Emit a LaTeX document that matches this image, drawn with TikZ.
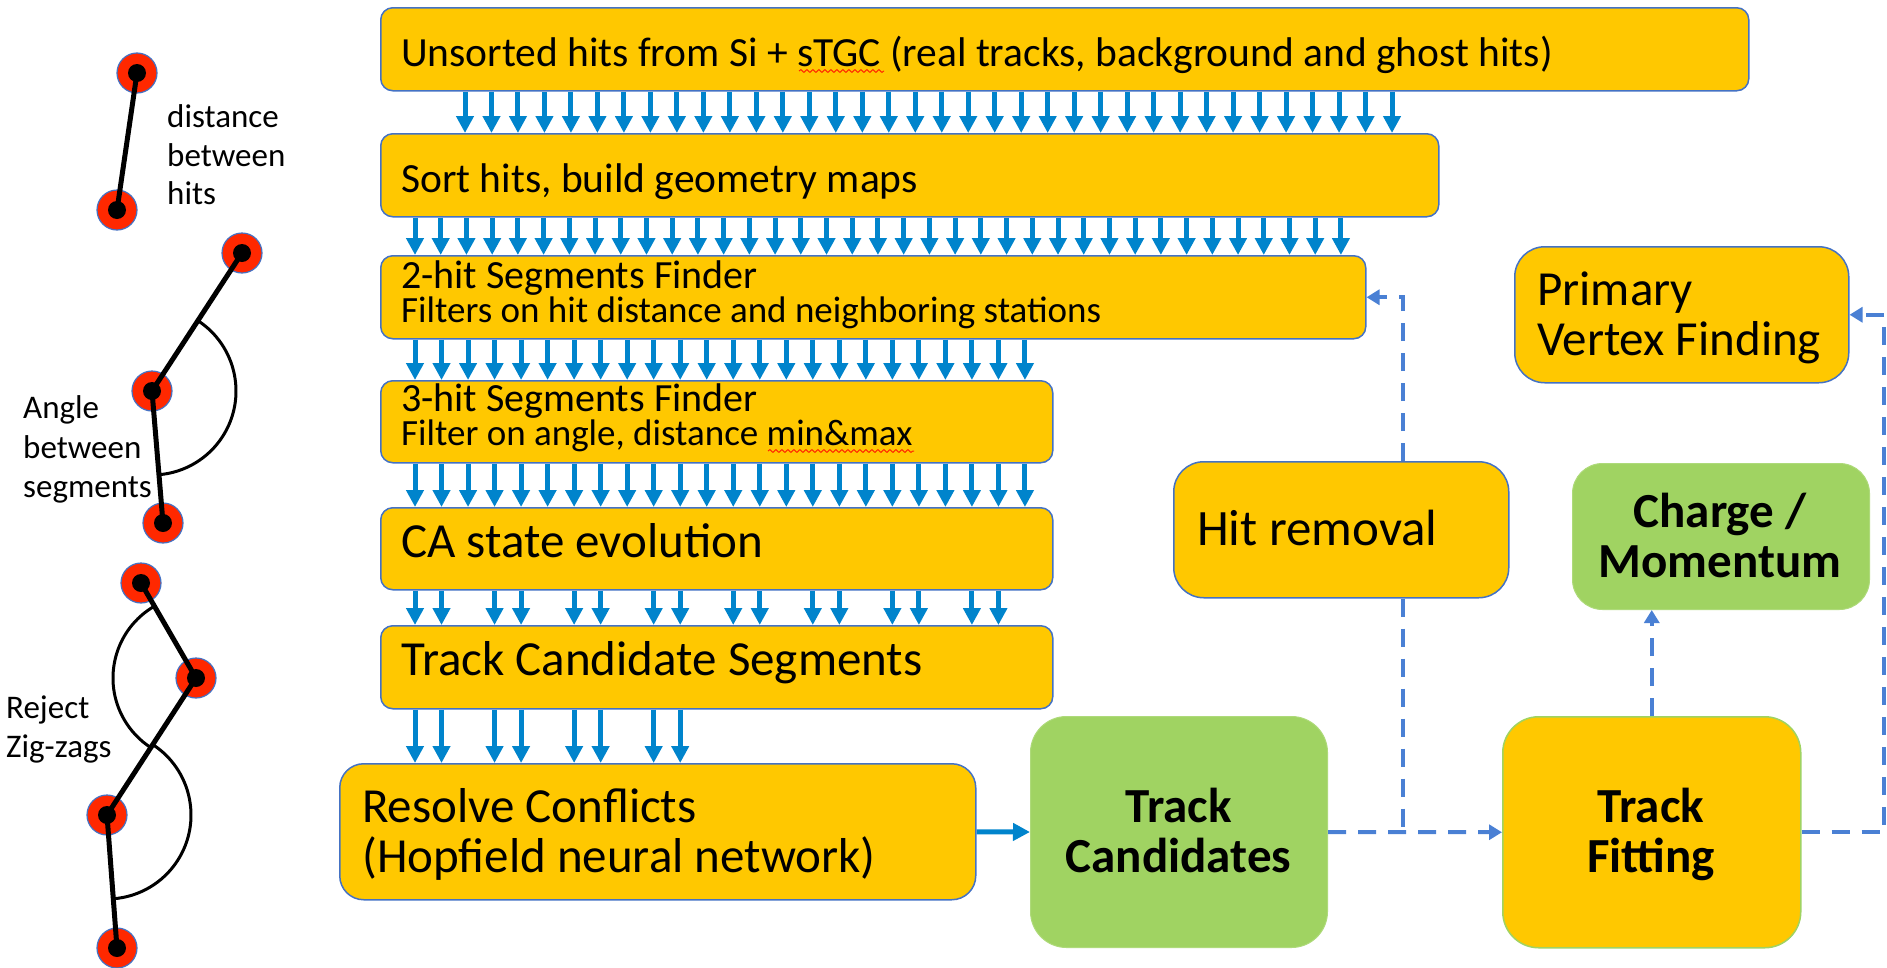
\documentclass[tikz,border=0pt]{standalone}
\usepackage{fontspec}
\setmainfont{Carlito}
\usetikzlibrary{arrows.meta,decorations.pathmorphing,calc}
\definecolor{boxY}{RGB}{255,200,0}
\definecolor{boxB}{RGB}{68,114,196}
\definecolor{grn}{RGB}{160,211,98}
\definecolor{arrB}{RGB}{0,132,204}
\definecolor{dashB}{RGB}{74,128,212}
\definecolor{hitR}{RGB}{255,40,0}
\newcommand\myfs[1]{\fontsize{#1bp}{#1bp}\selectfont}
\begin{document}
\begin{tikzpicture}[x=1bp,y=-1bp,
  ybox/.style={draw=boxB,line width=1.5bp,fill=boxY,rounded corners=#1,inner sep=0,anchor=north west},
  gbox/.style={draw=grn!85!white,line width=1bp,fill=grn,rounded corners=#1,inner sep=0,anchor=north west},
  fbox/.style={draw=grn,line width=1.5bp,fill=boxY,rounded corners=#1,inner sep=0,anchor=north west},
  txt/.style={anchor=base west,inner sep=0},
  ctxt/.style={anchor=base,inner sep=0},
  barrow/.style={draw=arrB,line width=5bp,-{Triangle[width=17bp,length=17bp]},arrB},
  dline/.style={draw=dashB,line width=4bp,dash pattern=on 18bp off 12bp},
  darrow/.style={dline,-{Triangle[width=15bp,length=13bp]},dashB},
  hit/.style={circle,fill=hitR,draw=boxB,line width=1.2bp,minimum size=40bp,inner sep=0},
  stick/.style={line width=5bp,black},
  arcline/.style={line width=3bp,black},
  squig/.style={draw=hitR,line width=1bp,decorate,decoration={snake,amplitude=1.4bp,segment length=6bp}}
]
\useasboundingbox (0,0) rectangle (1887,967);

% ---------- main boxes ----------
\node[ybox=12bp,minimum width=1368bp,minimum height=83bp] (b1) at (380,7) {};
\node[ybox=12bp,minimum width=1058bp,minimum height=83bp] (b2) at (380,133) {};
\node[ybox=12bp,minimum width=985bp,minimum height=83bp] (b3) at (380,255) {};
\node[ybox=12bp,minimum width=672bp,minimum height=82bp] (b4) at (380,380) {};
\node[ybox=12bp,minimum width=672bp,minimum height=82bp] (b5) at (380,507) {};
\node[ybox=12bp,minimum width=672bp,minimum height=83bp] (b6) at (380,625) {};
\node[ybox=24bp,minimum width=636bp,minimum height=136bp] (res) at (339,763) {};
\node[gbox=36bp,minimum width=297bp,minimum height=231bp] (tc) at (1030,716) {};
\node[ybox=30bp,minimum width=335bp,minimum height=136bp] (hr) at (1173,461) {};
\node[ybox=30bp,minimum width=334bp,minimum height=136bp] (pv) at (1514,246) {};
\node[gbox=30bp,minimum width=297bp,minimum height=146bp] (cm) at (1572,463) {};
\node[fbox=36bp,minimum width=298bp,minimum height=231bp] (tf) at (1502,716) {};

% ---------- texts ----------
\node[txt] (t1) at (401,66) {\myfs{41.5}Unsorted hits from Si + sTGC (real tracks, background and ghost hits)};
\draw[squig] (799,71) -- (884,71);
\node[txt] (t2) at (401,192) {\myfs{41.5}Sort hits, build geometry maps};
\node[txt] (t3a) at (401,288) {\myfs{40}2-hit Segments Finder};
\node[txt] (t3b) at (401,322) {\myfs{37}Filters on hit distance and neighboring stations};
\node[txt] (t4a) at (401,411) {\myfs{40}3-hit Segments Finder};
\node[txt] (t4b) at (401,445) {\myfs{37}Filter on angle, distance min\&max};
\draw[squig] (768,451) -- (914,451);
\node[txt] (t5) at (401,557) {\myfs{49}CA state evolution};
\node[txt] (t6) at (401,675) {\myfs{49}Track Candidate Segments};
\node[txt] (tra) at (362,822) {\myfs{49}Resolve Conflicts};
\node[txt] (trb) at (362,872) {\myfs{49}(Hopfield neural network)};
\node[ctxt] (tca) at (1178.5,822) {\myfs{49}\bfseries Track};
\node[ctxt] (tcb) at (1178.5,872) {\myfs{49}\bfseries Candidates};
\node[txt] (thr) at (1197,545) {\myfs{51}Hit removal};
\node[txt] (tpa) at (1537,305) {\myfs{49}Primary};
\node[txt] (tpb) at (1537,355) {\myfs{49}Vertex Finding};
\node[ctxt] (tma) at (1720,527) {\myfs{49}\bfseries Charge /};
\node[ctxt] (tmb) at (1720,577) {\myfs{49}\bfseries Momentum};
\node[ctxt] (tfa) at (1651,822) {\myfs{49}\bfseries Track};
\node[ctxt] (tfb) at (1651,872) {\myfs{49}\bfseries Fitting};

% ---------- blue arrow rows ----------
\foreach \i in {0,...,35}{
  \coordinate (ax) at ({465+\i*26.486},0);
  \draw[barrow] (b1.south -| ax) -- (b2.north -| ax);
}
\foreach \i in {0,...,36}{
  \coordinate (ax) at ({415+\i*25.72},0);
  \draw[barrow] (b2.south -| ax) -- (b3.north -| ax);
}
\foreach \i in {0,...,23}{
  \coordinate (ax) at ({415+\i*26.52},0);
  \draw[barrow] (b3.south -| ax) -- (b4.north -| ax);
  \draw[barrow] (b4.south -| ax) -- (b5.north -| ax);
}
\foreach \i in {0,1,3,4,6,7,9,10,12,13,15,16,18,19,21,22}{
  \coordinate (ax) at ({415+\i*26.52},0);
  \draw[barrow] (b5.south -| ax) -- (b6.north -| ax);
}
\foreach \i in {0,1,3,4,6,7,9,10}{
  \coordinate (ax) at ({415+\i*26.52},0);
  \draw[barrow] (b6.south -| ax) -- (res.north -| ax);
}
\draw[barrow] (res.east) -- (tc.west);

% ---------- dashed connectors ----------
\coordinate (jx) at (1403,0);
\coordinate (rx) at (1884,0);
\draw[darrow] (tc.east) -- (tf.west);
\draw[dline] (hr.south -| jx) -- (tc.east -| jx);
\draw[darrow] (hr.north -| jx) -- (b3.east -| jx) -- (b3.east);
\draw[darrow] (tf.north) -- (tf.north |- cm.south);
\draw[darrow] (tf.east) -- (tf.east -| rx) -- (pv.east -| rx) -- (pv.east);

% ---------- left illustrations ----------
\node[hit] (hA) at (137,73) {};
\node[hit] (hB) at (117,210) {};
\node[hit] (hC) at (242,253) {};
\node[hit] (hD) at (152,391) {};
\node[hit] (hE) at (163,523) {};
\node[hit] (hF) at (141,583) {};
\node[hit] (hG) at (196,678) {};
\node[hit] (hH) at (107,815) {};
\node[hit] (hI) at (117,948) {};
\draw[stick] (hA.center) -- (hB.center);
\draw[stick] (hC.center) -- (hD.center) -- (hE.center);
\draw[stick] (hF.center) -- (hG.center) -- (hH.center) -- (hI.center);
\draw[arcline] ($(hD.center)+(-56.9:84)$) arc[start angle=-56.9,end angle=85.2,radius=84];
\draw[arcline] ($(hG.center)+(-120:83)$) arc[start angle=-120,end angle=-237,radius=83];
\draw[arcline] ($(hH.center)+(-57:84)$) arc[start angle=-57,end angle=85.7,radius=84];
\foreach \h in {hA,hB,hC,hD,hE,hF,hG,hH,hI}{
  \fill[black] (\h.center) circle[radius=9];
}
\node[txt] (la1) at (167,127) {\myfs{33}distance};
\node[txt] (la2) at (167,166) {\myfs{33}between};
\node[txt] (la3) at (167,204) {\myfs{33}hits};
\node[txt] (lb1) at (23,418) {\myfs{33}Angle};
\node[txt] (lb2) at (23,458) {\myfs{33}between};
\node[txt] (lb3) at (23,497) {\myfs{33}segments};
\node[txt] (lc1) at (6,718) {\myfs{33}Reject};
\node[txt] (lc2) at (6,757) {\myfs{33}Zig-zags};
\end{tikzpicture}
\end{document}
